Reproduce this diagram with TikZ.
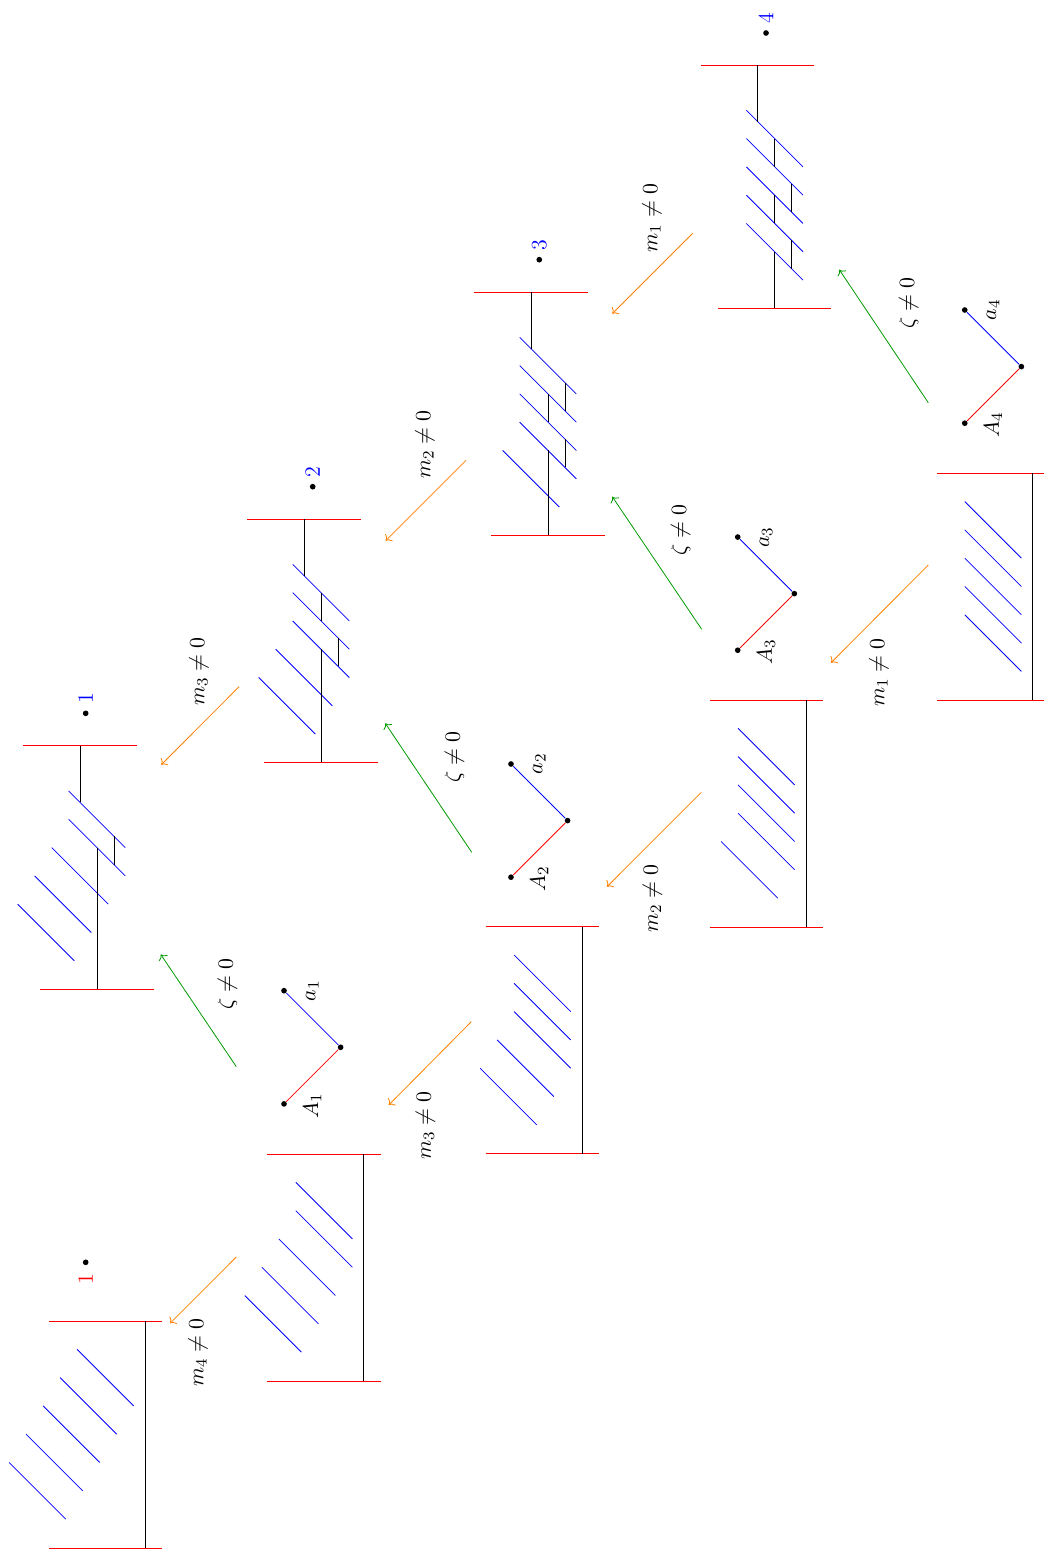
\documentclass[tikz,border=0pt]{standalone}
\usepackage{amsmath}
\usepackage{amssymb}
\usepackage{xcolor}
\usetikzlibrary{arrows.meta, positioning}
\newcommand{\nz}{\neq 0}
\tikzset{
  lab/.style={rotate=90, inner sep=0pt, font=\fontsize{11}{13}\selectfont},
  dotmark/.style={circle, fill=black, inner sep=0pt, minimum size=1mm},
  wall/.style={red},
  rung/.style={blue},
  massarrow/.style={->, orange},
  zetaarrow/.style={->, green!60!black}
}

\begin{document}
\begin{tikzpicture}[y=-1cm]
  \useasboundingbox (0,0) rectangle (18.445,27.385);
  \foreach \ox/\oy/\rungs/\links in {
    1.413/13.175/{-0.2,-0.2,-0.5,-0.8,-1.1}/{0/0/1,0.6/1.6/2.1,0.3/1.8/4.3},
    5.371/9.170/{-0.2,-0.2,-0.2,-0.5,-0.8}/{0/0/1,0.3/1.3/1.8,0.6/2.1/2.6,0.3/2.3/4.3},
    9.382/5.159/{-0.2,-0.2,-0.2,-0.2,-0.5}/{0/0/1,0.6/1.6/2.1,0.3/1.8/2.3,0.6/2.6/3.1,0.3/2.8/4.3},
    13.387/1.148/{-0.2,-0.2,-0.2,-0.2,-0.2}/{0/0/1,0.3/1.3/1.8,0.6/2.1/2.6,0.3/2.3/2.8,0.6/3.1/3.6,0.3/3.3/4.3}} {
    \begin{scope}[shift={(\ox,\oy)}]
      \draw[wall] (-1,0) -- (1,0);
      \draw[wall] (-0.7,4.3) -- (1.3,4.3);
      \foreach \a [count=\k] in \rungs \draw[rung] (\a,{0.3+0.5*\k}) -- ++(1,1);
      \foreach \lx/\ya/\yb in \links \draw (\lx,\ya) -- (\lx,\yb);
    \end{scope}
  }
  \foreach \ox/\oy/\rungs in {
    2.562/23.339/{-1.2,-1.5,-1.8,-2.1,-2.4},
    6.426/20.389/{-1.2,-1.2,-1.5,-1.8,-2.1},
    10.283/16.373/{-1.2,-1.2,-1.2,-1.5,-1.8},
    14.240/12.367/{-1.2,-1.2,-1.2,-1.2,-1.5},
    18.246/8.362/{-1.2,-1.2,-1.2,-1.2,-1.2}} {
    \begin{scope}[shift={(\ox,\oy)}]
      \draw[wall] (-1.7,0) -- (0.3,0);
      \draw[wall] (-1.7,4.01) -- (0.3,4.01);
      \draw (0,0) -- (0,4.01);
      \foreach \a [count=\k] in \rungs \draw[rung] (\a,{0.5*\k}) -- ++(1,1);
    \end{scope}
  }
  \foreach \i/\x/\y in {1/1.514/12.603, 2/5.525/8.599, 3/9.528/4.588, 4/13.534/0.583} {
    \node[dotmark] (p\i) at (\x,\y) {};
    \node[lab, blue] (pl\i) at (\x,\y-0.263) {\i};
  }
  \node[dotmark] (p0) at (1.514,22.302) {};
  \node[lab, red] (pl0) at (1.514,22.6) {1};
  \foreach \i/\x/\y in {1/5.018/17.503, 2/9.028/13.498, 3/13.034/9.488, 4/17.045/5.477} {
    \node[dotmark] (a\i) at (\x,\y) {};
    \node[dotmark] (v\i) at (\x+1,\y+1) {};
    \node[dotmark] (A\i) at (\x,\y+2) {};
    \draw[blue] (a\i) -- (v\i);
    \draw[red] (v\i) -- (A\i);
    \node[lab] (al\i) at (\x+0.5,\y) {$a_\i$};
    \node[lab] (Al\i) at (\x+0.5,\y+2.03) {$A_\i$};
  }
  \foreach \i/\xs/\ys/\xt/\yt/\xl/\yl in {
    1/4.175/18.846/2.839/16.861/4.02/17.38,
    2/8.334/15.058/6.807/12.779/8.03/13.37,
    3/12.397/11.118/10.818/8.776/12.024/9.36,
    4/16.401/7.115/14.829/4.765/16.052/5.357} {
    \coordinate (zs\i) at (\xs,\ys);
    \coordinate (zt\i) at (\xt,\yt);
    \draw[zetaarrow] (zs\i) -- (zt\i);
    \node[lab] (zl\i) at (\xl,\yl) {$\zeta\nz$};
  }
  \foreach \i/\m/\xs/\ys/\xt/\yt/\xl/\yl in {
    a/4/4.175/22.208/3.004/23.380/3.498/23.899,
    b/3/8.327/18.051/6.868/19.523/7.517/19.883,
    c/2/12.390/13.998/10.724/15.666/11.528/15.878,
    d/1/16.401/9.982/14.682/11.709/15.530/11.885,
    e/3/4.223/12.133/2.850/13.511/3.516/11.867,
    f/2/8.233/8.133/6.814/9.553/7.509/7.857,
    g/1/12.239/4.122/10.818/5.542/11.519/3.855} {
    \coordinate (ms\i) at (\xs,\ys);
    \coordinate (mt\i) at (\xt,\yt);
    \draw[massarrow] (ms\i) -- (mt\i);
    \node[lab] (ml\i) at (\xl,\yl) {$m_\m\nz$};
  }
\end{tikzpicture}
\end{document}
